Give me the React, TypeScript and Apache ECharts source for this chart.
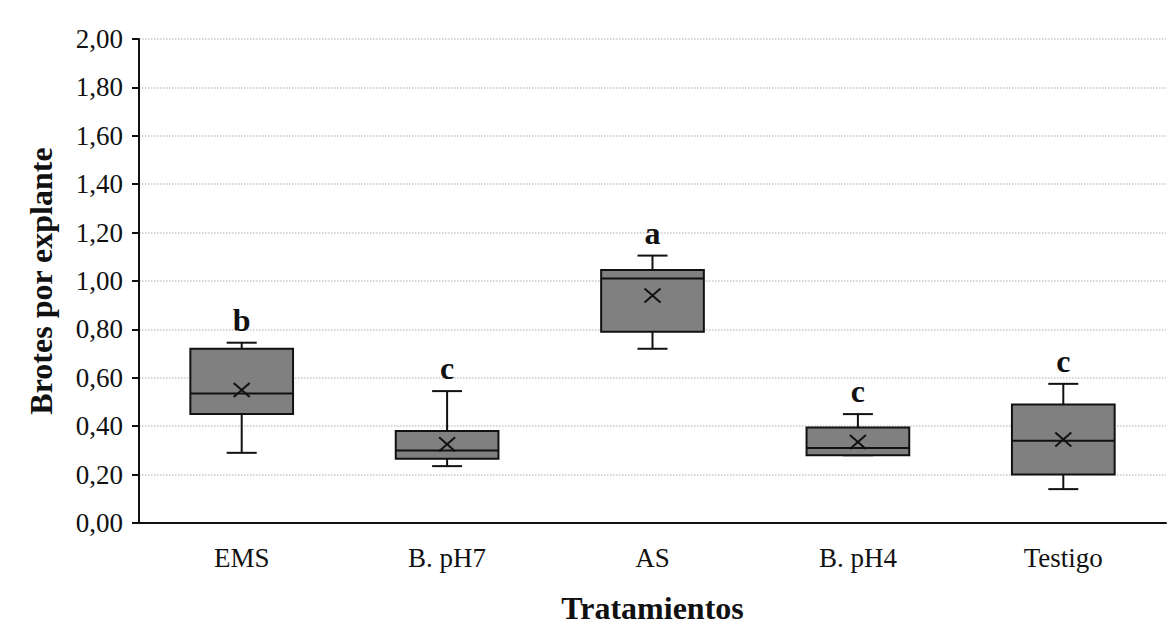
import React, { useEffect, useRef } from "react";
import * as echarts from "echarts";

const categories = ["EMS", "B. pH7", "AS", "B. pH4", "Testigo"];
const minVals = [0.29, 0.235, 0.72, 0.28, 0.14];
const q1Vals = [0.45, 0.265, 0.79, 0.28, 0.2];
const medianVals = [0.535, 0.3, 1.01, 0.31, 0.34];
const q3Vals = [0.72, 0.38, 1.045, 0.395, 0.49];
const maxVals = [0.745, 0.545, 1.105, 0.45, 0.575];
const meanVals = [0.55, 0.325, 0.94, 0.335, 0.345];
const letters = ["b", "c", "a", "c", "c"];
const yTicks = { min: 0, max: 2, interval: 0.2 };

const FONT = '"Liberation Serif", "Times New Roman", serif';

export default function App() {
  const ref = useRef<HTMLDivElement>(null);
  useEffect(() => {
    document.body.style.margin = "0";
    const chart = echarts.init(ref.current!, null, { renderer: "svg" });
    const data = categories.map((_, i) => [
      i,
      minVals[i],
      q1Vals[i],
      medianVals[i],
      q3Vals[i],
      maxVals[i],
      meanVals[i],
    ]);
    const lineStyle = { stroke: "#111", lineWidth: 2 };
    const renderItem = (params: any, api: any) => {
      const i = api.value(0);
      const pMin = api.coord([i, api.value(1)]);
      const pQ1 = api.coord([i, api.value(2)]);
      const pMed = api.coord([i, api.value(3)]);
      const pQ3 = api.coord([i, api.value(4)]);
      const pMax = api.coord([i, api.value(5)]);
      const pMean = api.coord([i, api.value(6)]);
      const bw = api.size([1, 0])[0] * 0.5;
      const cx = pMin[0];
      const cap = 15;
      const xs = 8;
      const xh = 7;
      const children: any[] = [
        { type: "line", shape: { x1: cx, y1: pMax[1], x2: cx, y2: pQ3[1] }, style: lineStyle },
        { type: "line", shape: { x1: cx, y1: pQ1[1], x2: cx, y2: pMin[1] }, style: lineStyle },
        { type: "line", shape: { x1: cx - cap, y1: pMax[1], x2: cx + cap, y2: pMax[1] }, style: lineStyle },
        { type: "line", shape: { x1: cx - cap, y1: pMin[1], x2: cx + cap, y2: pMin[1] }, style: lineStyle },
        {
          type: "rect",
          shape: { x: cx - bw / 2, y: pQ3[1], width: bw, height: pQ1[1] - pQ3[1] },
          style: { fill: "#808080", stroke: "#111", lineWidth: 2 },
        },
        { type: "line", shape: { x1: cx - bw / 2, y1: pMed[1], x2: cx + bw / 2, y2: pMed[1] }, style: lineStyle },
        { type: "line", shape: { x1: cx - xs, y1: pMean[1] - xh, x2: cx + xs, y2: pMean[1] + xh }, style: lineStyle },
        { type: "line", shape: { x1: cx - xs, y1: pMean[1] + xh, x2: cx + xs, y2: pMean[1] - xh }, style: lineStyle },
        {
          type: "text",
          x: cx,
          y: pMax[1] - 23,
          style: {
            text: letters[i],
            fontSize: 32,
            fontWeight: "bold",
            fontFamily: FONT,
            fill: "#111",
            align: "center",
            verticalAlign: "middle",
          },
        },
      ];
      return { type: "group", children };
    };
    chart.setOption({
      animation: false,
      backgroundColor: "#fff",
      grid: { left: 139, right: 4, top: 39, bottom: 107, containLabel: false },
      xAxis: {
        type: "category",
        data: categories,
        name: "Tratamientos",
        nameLocation: "middle",
        nameGap: 69,
        nameTextStyle: { fontSize: 32, fontWeight: "bold", fontFamily: FONT, color: "#111" },
        axisTick: { show: false },
        axisLine: { lineStyle: { color: "#111", width: 2 } },
        axisLabel: { fontSize: 27, fontFamily: FONT, color: "#111", margin: 21 },
        splitLine: { show: false },
      },
      yAxis: {
        type: "value",
        min: yTicks.min,
        max: yTicks.max,
        interval: yTicks.interval,
        name: "Brotes por explante",
        nameLocation: "middle",
        nameGap: 82,
        nameRotate: 90,
        nameTextStyle: { fontSize: 32, fontWeight: "bold", fontFamily: FONT, color: "#111" },
        axisLine: { show: true, lineStyle: { color: "#111", width: 2 } },
        axisTick: { show: true, length: 7, lineStyle: { color: "#111", width: 2 } },
        axisLabel: {
          fontSize: 27,
          fontFamily: FONT,
          color: "#111",
          margin: 16,
          formatter: (v: number) => v.toFixed(2).replace(".", ","),
        },
        splitLine: { show: true, lineStyle: { color: "#c8c8c8", type: "dotted", width: 1.5 } },
      },
      series: [
        {
          type: "custom",
          renderItem,
          data,
          encode: { x: 0, y: [1, 2, 3, 4, 5, 6] },
          clip: false,
        },
      ],
    });
    return () => chart.dispose();
  }, []);
  return <div ref={ref} style={{ width: 1170, height: 630 }} />;
}
